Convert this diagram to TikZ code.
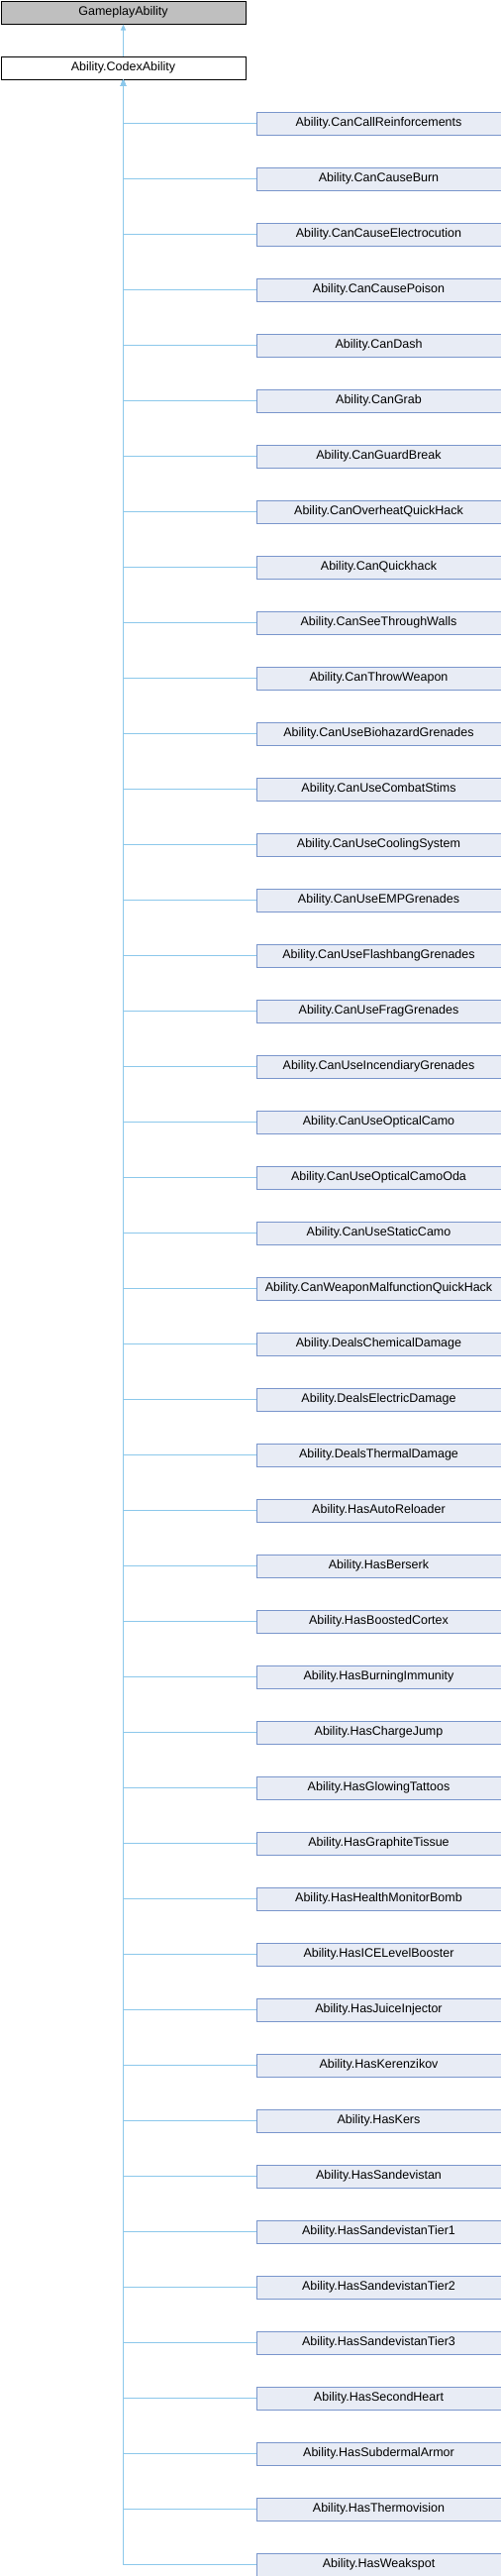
\documentclass[tikz,border=0pt]{standalone}
\usepackage{fontspec}
\setmainfont{Liberation Sans}
\usetikzlibrary{arrows.meta}
\definecolor{edgec}{RGB}{140,200,235}
\definecolor{childfill}{RGB}{232,236,245}
\definecolor{childdraw}{RGB}{122,150,204}
\definecolor{basefill}{RGB}{191,191,191}
\tikzset{
  box/.style={rectangle, minimum width=247pt, minimum height=23pt, inner sep=0pt, line width=1pt, font=\fontsize{12.5}{15}\selectfont, anchor=north west},
  basebox/.style={box, draw=black, fill=basefill},
  codexbox/.style={box, draw=black, fill=white},
  childbox/.style={box, draw=childdraw, fill=childfill},
  edge/.style={draw=edgec, line width=1pt, -{Triangle[width=5pt,length=6pt]}}
}
\begin{document}
\begin{tikzpicture}[x=1pt,y=-1pt]
\useasboundingbox (0,0) rectangle (506,2600);
\node[basebox] (base) at (0.5,0.5) {GameplayAbility};
\node[codexbox] (codex) at (0.5,56.5) {Ability.CodexAbility};
\draw[edge] (codex.north) -- (base.south);
\foreach [count=\i] \name in {CanCallReinforcements,CanCauseBurn,CanCauseElectrocution,CanCausePoison,CanDash,CanGrab,CanGuardBreak,CanOverheatQuickHack,CanQuickhack,CanSeeThroughWalls,CanThrowWeapon,CanUseBiohazardGrenades,CanUseCombatStims,CanUseCoolingSystem,CanUseEMPGrenades,CanUseFlashbangGrenades,CanUseFragGrenades,CanUseIncendiaryGrenades,CanUseOpticalCamo,CanUseOpticalCamoOda,CanUseStaticCamo,CanWeaponMalfunctionQuickHack,DealsChemicalDamage,DealsElectricDamage,DealsThermalDamage,HasAutoReloader,HasBerserk,HasBoostedCortex,HasBurningImmunity,HasChargeJump,HasGlowingTattoos,HasGraphiteTissue,HasHealthMonitorBomb,HasICELevelBooster,HasJuiceInjector,HasKerenzikov,HasKers,HasSandevistan,HasSandevistanTier1,HasSandevistanTier2,HasSandevistanTier3,HasSecondHeart,HasSubdermalArmor,HasThermovision,HasWeakspot} {
  \node[childbox] (c\i) at (258.5,{112.5+56*(\i-1)}) {Ability.\name};
  \draw[edge] (c\i.west) -| (codex.south);
}
\end{tikzpicture}
\end{document}
